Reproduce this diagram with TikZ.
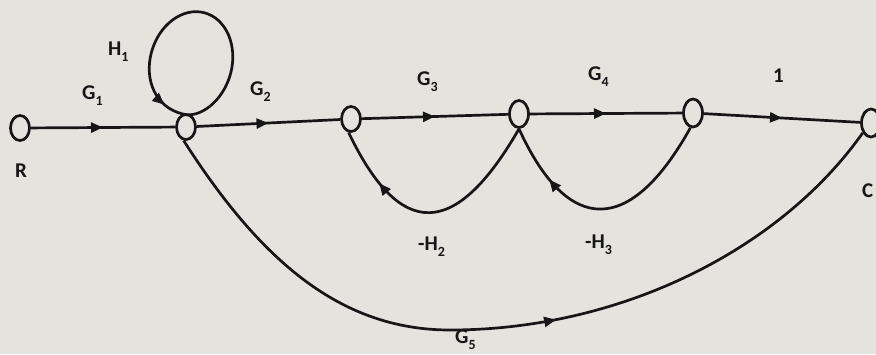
\documentclass[tikz,border=0pt]{standalone}
\usepackage{fontspec}
\setmainfont{Carlito}
\usetikzlibrary{shapes.geometric,arrows.meta,decorations.markings}
\definecolor{paper}{RGB}{228,227,222}
\definecolor{ink}{RGB}{22,22,22}
\newcommand{\sbs}[1]{\raisebox{-0.3em}{\fontsize{14pt}{14pt}\selectfont #1}}
\begin{document}
\begin{tikzpicture}[x=1pt,y=1pt,
  sfnode/.style={ellipse,draw=ink,fill=paper,line width=2.7pt,minimum width=19pt,minimum height=25pt,inner sep=0pt},
  edge/.style={draw=ink,line width=2.7pt},
  midarrow/.style={postaction={decorate},decoration={markings,mark=at position #1 with {\arrow{Triangle[length=12pt,width=10pt]}}}},
  lbl/.style={font=\fontsize{21pt}{21pt}\selectfont\bfseries,text=ink,inner sep=0pt,anchor=base west}]
\fill[paper] (0,0) rectangle (876,-354);
\useasboundingbox (0,0) rectangle (876,-354);

% nodes
\node[sfnode] (R) at (20,-128) {};
\node[sfnode] (n2) at (186,-127) {};
\node[sfnode] (n3) at (351,-119) {};
\node[sfnode,minimum height=27pt] (n4) at (519,-114) {};
\node[sfnode,minimum height=28pt] (n5) at (693,-113) {};
\node[sfnode,minimum height=28pt] (n6) at (871,-123) {};

% forward branches
\draw[edge,midarrow=0.5] (R) -- (n2);
\draw[edge,midarrow=0.5] (n2) -- (n3);
\draw[edge,midarrow=0.5] (n3) -- (n4);
\draw[edge,midarrow=0.5] (n4) -- (n5);
\draw[edge,midarrow=0.5] (n5) -- (n6);

% feedback loops
\draw[edge,midarrow=0.76] (n4.south) .. controls (455,-240) and (400,-240) .. (n3.-100);
\draw[edge,midarrow=0.76] (n5.-100) .. controls (630,-236) and (568,-236) .. (n4.south);

% feed-forward G5
\draw[edge,midarrow=0.55] (n2.-100) .. controls (260,-260) and (340,-330) .. (450,-330)
   .. controls (620,-330) and (780,-250) .. (n6.-130);

% self loop H1 (tilted ellipse through the node)
\draw[edge,midarrow=0.93] (n2.105)
   .. controls (199.4,-119.1) and (223.2,-101.3) .. (230.6,-73.6)
   .. controls (238.0,-45.9) and (226.3,-18.6) .. (204.5,-12.8)
   .. controls (182.7,-6.9) and (158.8,-24.7) .. (151.4,-52.4)
   .. controls (144.0,-80.1) and (155.7,-107.4) .. (n2.105);

% labels
\node[lbl] (lG1) at (82,-99) {G\sbs{1}};
\node[lbl] (lH1) at (108,-55) {H\sbs{1}};
\node[lbl] (lG2) at (250,-95) {G\sbs{2}};
\node[lbl] (lG3) at (417,-85) {G\sbs{3}};
\node[lbl] (lG4) at (588,-80) {G\sbs{4}};
\node[lbl] (l1) at (773,-82) {1};
\node[lbl] (lH2) at (418,-250) {-H\sbs{2}};
\node[lbl] (lH3) at (585,-248) {-H\sbs{3}};
\node[lbl] (lG5) at (455,-343) {G\sbs{5}};
\node[lbl] (lR) at (15,-177) {R};
\node[lbl] (lC) at (862,-197) {C};
\end{tikzpicture}
\end{document}
